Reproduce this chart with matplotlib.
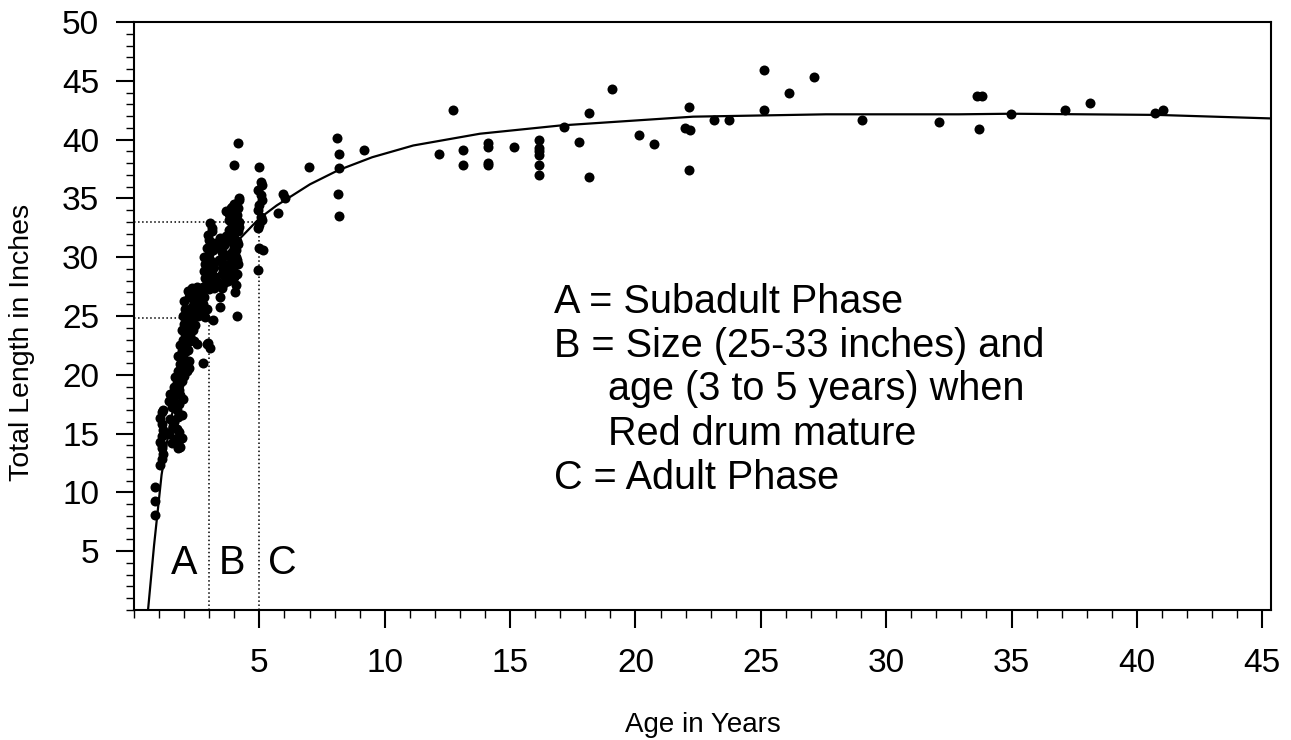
import matplotlib.pyplot as plt
from matplotlib.ticker import MultipleLocator

plt.rcParams['font.family'] = ['Liberation Sans', 'DejaVu Sans']

ages = [
    0.85, 0.85, 0.85,
    1.05, 1.1, 1.15, 1.1, 1.05, 1.1, 1.15, 1.1, 1.05, 1.1, 1.15, 1.1,
    1.4, 1.45, 1.5, 1.55, 1.6, 1.65, 1.7, 1.75, 1.8, 1.85, 1.9, 1.4, 1.5,
    1.6, 1.7, 1.8, 1.9, 1.45, 1.55, 1.65, 1.75, 1.85, 1.95, 1.77, 1.6, 1.8,
    1.6, 1.7, 1.8, 1.9, 2.0, 2.1, 2.2, 1.65, 1.75, 1.85, 1.95, 2.05, 2.15,
    1.7, 1.8, 1.9, 2.0, 2.1, 2.2, 1.75, 1.9, 2.05,
    1.85, 1.95, 2.05, 2.15, 2.25, 2.35, 2.45, 1.9, 2.0, 2.1, 2.2, 2.3, 2.4,
    2.5, 1.95, 2.05, 2.15, 2.25, 2.35, 2.45, 2.0, 2.2, 2.4,
    2.17, 2.3, 2.45, 2.6, 2.75, 2.9, 2.55, 2.7, 2.85,
    2.3, 2.4, 2.6, 2.7, 2.8, 2.5, 2.65,
    2.76, 2.9, 2.97, 3.16, 3.43, 3.43, 4.03, 4.1, 3.03,
    2.75, 2.85, 2.95, 3.05, 3.15, 3.25, 2.8, 2.9, 3.0, 3.1, 3.2, 2.8, 2.9,
    3.0, 3.1, 3.2, 3.05, 3.1, 2.95,
    2.85, 2.95, 3.05, 3.15, 3.25, 3.0, 3.2,
    3.4, 3.5, 3.6, 3.7, 3.45, 3.55, 3.65, 3.4, 3.5, 3.6,
    3.45, 3.55, 3.65, 3.5, 3.6, 3.7, 3.4,
    3.75, 3.8, 3.85, 3.9, 3.95, 4.0, 4.05, 4.1, 4.15, 4.2, 3.75, 3.8, 3.85,
    3.9, 3.95, 4.0, 4.05, 4.1, 4.15, 4.2, 3.8, 3.9, 4.0, 4.1, 4.15, 3.66,
    3.96, 4.2, 3.9, 4.0,
    3.75, 3.85, 3.95, 4.05, 4.15, 3.8, 3.9, 4.0, 4.1, 4.2, 3.85, 4.05,
    4.16, 3.99,
    5.0, 5.05, 5.1, 4.95, 5.05, 5.1, 5.0, 4.95, 5.05, 5.1, 5.0, 4.95, 5.0,
    5.15, 4.95,
    5.76, 5.96, 6.02, 6.99,
    8.08, 8.18, 8.18, 8.15, 8.18, 9.17,
    12.17, 12.74, 13.14, 13.14, 14.13, 14.13, 14.13, 14.13, 15.16,
    16.15, 16.15, 16.15, 16.15, 16.15, 16.15,
    17.15, 17.75, 18.16, 18.16, 19.05, 20.14, 20.74,
    21.98, 22.15, 22.18, 22.15, 23.14, 23.73,
    25.14, 25.14, 26.14, 27.14, 29.04, 32.12,
    33.64, 33.81, 33.72, 34.97, 37.14, 38.13, 40.73, 41.03,
]
lengths = [
    8.1, 9.3, 10.5,
    12.3, 12.8, 13.3, 13.8, 14.3, 14.8, 15.3, 15.8, 16.3, 16.8, 17.0, 14.0,
    15.0, 16.2, 17.3, 18.0, 18.6, 14.5, 15.4, 16.4, 17.5, 18.3, 14.6, 17.8, 14.2,
    16.0, 17.0, 15.1, 16.6, 18.4, 15.6, 17.4, 14.2, 13.9, 17.9, 13.75, 18.5, 18.7,
    19.0, 19.3, 19.6, 20.0, 20.4, 20.8, 21.2, 19.8, 20.3, 20.9, 21.4, 21.9, 22.1,
    18.9, 19.1, 19.5, 19.9, 20.3, 20.6, 21.6, 22.0, 22.3,
    22.5, 23.0, 23.5, 24.0, 24.5, 25.0, 25.5, 23.8, 24.3, 24.8, 25.3, 25.8, 26.1,
    22.6, 25.0, 25.6, 22.8, 23.3, 23.8, 24.2, 26.3, 26.6, 22.9,
    27.1, 26.9, 26.6, 26.3, 26.0, 25.6, 25.0, 25.3, 24.9,
    27.4, 25.9, 27.2, 26.8, 26.6, 27.5, 25.8,
    21.0, 22.6, 22.7, 24.7, 25.8, 26.6, 27.0, 25.0, 22.3,
    27.5, 28.2, 29.0, 29.8, 30.6, 31.2, 30.0, 30.8, 31.5, 32.2, 28.0, 28.8, 27.8,
    27.3, 28.6, 29.5, 32.9, 32.5, 31.9,
    29.4, 27.9, 31.0, 29.2, 28.3, 30.3, 27.4,
    27.8, 28.6, 29.4, 30.2, 30.9, 29.0, 28.3, 29.8, 30.4, 31.0,
    31.6, 30.2, 31.8, 27.4, 27.8, 28.9, 31.2,
    28.0, 28.8, 29.6, 30.4, 31.2, 32.0, 32.8, 33.6, 34.2, 34.9, 31.5, 32.3, 33.1,
    28.3, 29.0, 29.8, 30.6, 31.4, 32.2, 33.0, 33.7, 34.3, 30.9, 28.6, 29.4, 33.9,
    34.0, 35.0, 28.9, 28.3,
    29.2, 30.1, 31.9, 30.0, 31.1, 33.2, 32.7, 34.5, 29.8, 32.6, 34.2, 27.6,
    39.7, 37.8,
    37.7, 36.4, 36.1, 35.7, 35.3, 34.9, 34.4, 34.0, 33.4, 33.2, 32.7, 32.5, 30.75,
    30.6, 28.9,
    33.8, 35.4, 35.0, 37.7,
    40.1, 38.8, 37.6, 35.4, 33.5, 39.1,
    38.8, 42.5, 39.1, 37.8, 39.7, 39.4, 38.0, 37.8, 39.4,
    40.0, 39.3, 39.0, 38.7, 37.8, 37.0,
    41.1, 39.8, 42.3, 36.8, 44.3, 40.4, 39.6,
    41.0, 42.8, 40.8, 37.4, 41.7, 41.7,
    45.9, 42.5, 44.0, 45.3, 41.7, 41.5,
    43.7, 43.7, 40.9, 42.2, 42.5, 43.1, 42.3, 42.5,
]

# fitted growth curve
curve_age = [0.56, 0.8, 1.1, 1.45, 2.0, 2.5, 3.0, 3.23, 3.7, 4.23, 5.0, 5.69,
             7.02, 8.15, 9.5, 11.14, 13.8, 17.0, 22.3, 27.6, 32.9, 35.0,
             40.8, 45.35]
curve_len = [0.0, 5.5, 11.5, 16.0, 21.3, 25.0, 27.6, 28.6, 30.2, 31.6, 33.3,
             34.4, 36.2, 37.4, 38.5, 39.5, 40.5, 41.2, 41.95, 42.15, 42.15,
             42.2, 42.1, 41.8]

# maturity window: 25-33 inches, 3-5 years
mature_size = [24.8, 33.0]
mature_age = [3.0, 5.0]

fig = plt.figure(figsize=(12.91, 7.40), dpi=100)
ax = fig.add_axes([134 / 1291, 1 - 610 / 740, (1271 - 134) / 1291, (610 - 22) / 740])

for a, s in zip(mature_age, mature_size):
    ax.plot([0, a], [s, s], color='black', linestyle=':', linewidth=1.1)
    ax.plot([a, a], [0, s], color='black', linestyle=':', linewidth=1.1)

ax.plot(curve_age, curve_len, color='black', linewidth=1.6)
ax.plot(ages, lengths, 'o', color='black', markersize=7.2, markeredgewidth=0)

ax.set_xlim(0, 45.35)
ax.set_ylim(0, 50)
ax.set_xticks(range(5, 46, 5))
ax.set_yticks(range(5, 51, 5))
ax.xaxis.set_minor_locator(MultipleLocator(1))
ax.yaxis.set_minor_locator(MultipleLocator(1))
ax.tick_params(which='major', direction='out', length=13, width=1.5,
               labelsize=24, top=False, right=False)
ax.tick_params(axis='x', which='major', pad=14)
ax.tick_params(axis='y', which='major', pad=12)
ax.tick_params(which='minor', direction='out', length=6, width=1.0,
               top=False, right=False)
for sp in ax.spines.values():
    sp.set_linewidth(1.5)

ax.set_xlabel('Age in Years', fontsize=20, labelpad=24)
fig.text(22 / 1291, 1 - 342 / 740, 'Total Length in Inches', fontsize=20.5,
         rotation=90, ha='center', va='center')

fs = 28.5
ax.text(16.75, 25.26, 'A = Subadult Phase', fontsize=fs, va='baseline')
ax.text(16.75, 21.51, 'B = Size (25-33 inches) and', fontsize=fs, va='baseline')
ax.text(18.9, 17.86, 'age (3 to 5 years) when', fontsize=fs, va='baseline')
ax.text(18.9, 14.03, 'Red drum mature', fontsize=fs, va='baseline')
ax.text(16.75, 10.29, 'C = Adult Phase', fontsize=fs, va='baseline')

for lab, xc in zip(['A', 'B', 'C'], [2.0, 3.9, 5.9]):
    ax.text(xc, 3.1, lab, fontsize=fs, ha='center', va='baseline')

fig.savefig('out.png', dpi=100)
